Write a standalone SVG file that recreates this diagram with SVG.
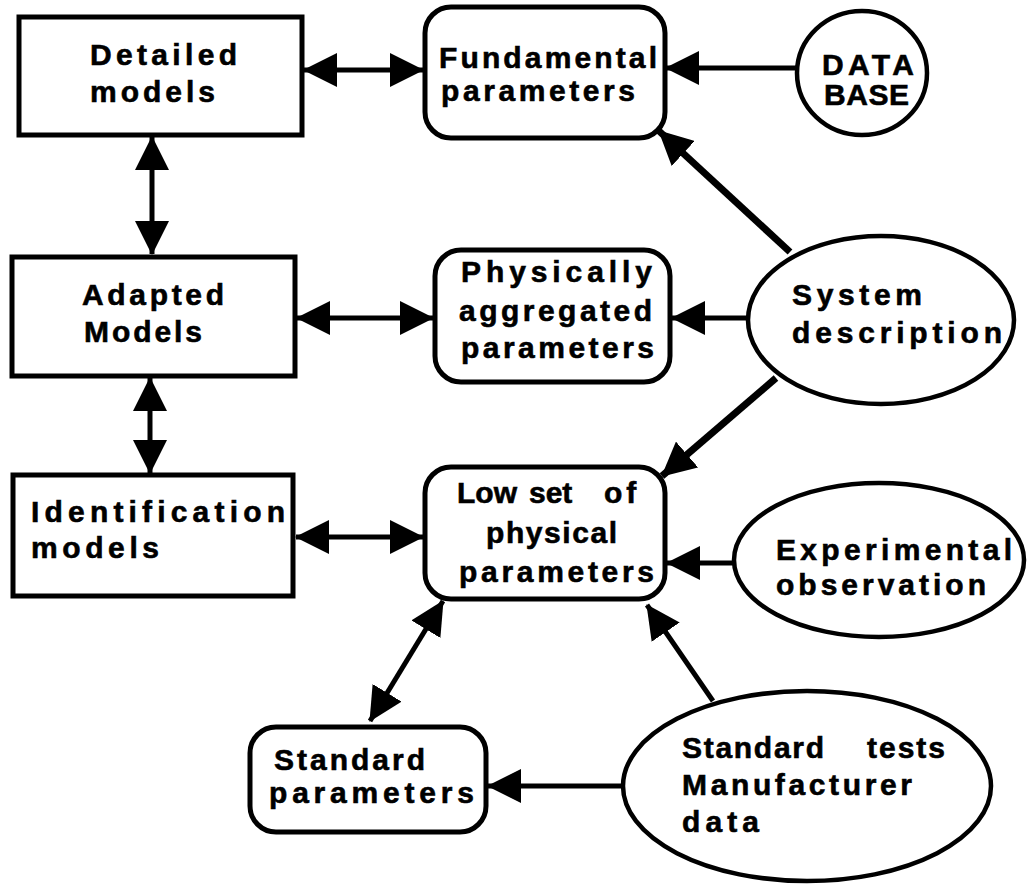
<svg xmlns="http://www.w3.org/2000/svg" width="1032" height="884" viewBox="0 0 1032 884">
<style>
.box{fill:#fff;stroke:#000;stroke-width:5}
.oval{fill:#fff;stroke:#000;stroke-width:4.5}
text{font-family:"Liberation Sans",Arial,Helvetica,sans-serif;font-weight:bold;font-size:30px;fill:#000;stroke:#000;stroke-width:0.6}
.w{letter-spacing:4px}
.c{fill:none;stroke:#000;stroke-width:5}
.t{stroke-width:7}
.d{marker-start:url(#ah);marker-end:url(#ah)}
.s{marker-end:url(#ah)}
</style>
<defs>
<marker id="ah" viewBox="0 0 34 34" refX="33" refY="17" markerWidth="34" markerHeight="34" markerUnits="userSpaceOnUse" orient="auto-start-reverse">
<path d="M0,0 L34,17 L0,34 Z" fill="#000"/>
</marker>
</defs>
<rect width="1032" height="884" fill="#fff"/>
<g id="connectors">
<line class="c d" x1="304" y1="70" x2="423" y2="70"/>
<line class="c s" x1="797" y1="68" x2="666" y2="68"/>
<line class="c t s" x1="790" y1="252" x2="659" y2="131"/>
<line class="c d" x1="152" y1="137" x2="152" y2="254"/>
<line class="c d" x1="297" y1="318" x2="433" y2="318"/>
<line class="c s" x1="747" y1="318" x2="672" y2="318"/>
<line class="c d" x1="150" y1="378" x2="150" y2="473"/>
<line class="c d" x1="296" y1="537" x2="423" y2="537"/>
<line class="c t s" x1="776" y1="378" x2="662" y2="476"/>
<line class="c s" x1="733" y1="563" x2="667" y2="563"/>
<line class="c d" x1="443" y1="601" x2="370" y2="721"/>
<line class="c s" x1="713" y1="701" x2="647" y2="605"/>
<line class="c s" x1="622" y1="786" x2="488" y2="786"/>
</g>
<g id="detailed">
<rect class="box" x="19" y="17" width="283" height="118"/>
<text x="90" y="65" textLength="147" lengthAdjust="spacing">Detailed</text>
<text x="90" y="102" textLength="125" lengthAdjust="spacing">models</text>
</g>
<g id="fundamental">
<rect class="box" x="425" y="7" width="240" height="131" rx="26"/>
<text x="439" y="68" textLength="218" lengthAdjust="spacing">Fundamental</text>
<text x="441" y="101" textLength="194" lengthAdjust="spacing">parameters</text>
</g>
<g id="database">
<ellipse class="oval" cx="862" cy="73" rx="65" ry="62"/>
<text x="822" y="75" textLength="92" lengthAdjust="spacing">DATA</text>
<text x="824" y="105" textLength="85" lengthAdjust="spacing">BASE</text>
</g>
<g id="adapted">
<rect class="box" x="12" y="257" width="283" height="119"/>
<text x="82" y="305" textLength="142" lengthAdjust="spacing">Adapted</text>
<text x="84" y="342" textLength="118" lengthAdjust="spacing">Models</text>
</g>
<g id="physically">
<rect class="box" x="435" y="250" width="235" height="132" rx="26"/>
<text x="461" y="282" textLength="191" lengthAdjust="spacing">Physically</text>
<text x="459" y="321" textLength="193" lengthAdjust="spacing">aggregated</text>
<text x="461" y="358" textLength="193" lengthAdjust="spacing">parameters</text>
</g>
<g id="system">
<ellipse class="oval" cx="881" cy="320" rx="133" ry="84"/>
<text x="792" y="305" textLength="130" lengthAdjust="spacing">System</text>
<text x="792" y="343" textLength="210" lengthAdjust="spacing">description</text>
</g>
<g id="identification">
<rect class="box" x="13" y="475" width="280" height="121"/>
<text x="31" y="522" textLength="254" lengthAdjust="spacing">Identification</text>
<text x="31" y="558" textLength="128" lengthAdjust="spacing">models</text>
</g>
<g id="lowset">
<rect class="box" x="425" y="467" width="240" height="132" rx="26"/>
<text x="457" y="503">Low <tspan x="529">set</tspan> <tspan x="604" class="w">of</tspan></text>
<text x="486" y="543" textLength="131" lengthAdjust="spacing">physical</text>
<text x="459" y="582" textLength="195" lengthAdjust="spacing">parameters</text>
</g>
<g id="experimental">
<ellipse class="oval" cx="879" cy="560" rx="145" ry="77"/>
<text x="776" y="560" textLength="236" lengthAdjust="spacing">Experimental</text>
<text x="776" y="595" textLength="210" lengthAdjust="spacing">observation</text>
</g>
<g id="standardparams">
<rect class="box" x="250" y="727" width="236" height="105" rx="26"/>
<text x="274" y="770" textLength="151" lengthAdjust="spacing">Standard</text>
<text x="269" y="803" textLength="205" lengthAdjust="spacing">parameters</text>
</g>
<g id="standardtests">
<ellipse class="oval" cx="807" cy="786" rx="184" ry="95"/>
<text x="682" y="758" textLength="142" lengthAdjust="spacing">Standard</text>
<text x="867" y="758" textLength="78" lengthAdjust="spacing">tests</text>
<text x="682" y="795" textLength="230" lengthAdjust="spacing">Manufacturer</text>
<text x="682" y="832" textLength="77" lengthAdjust="spacing">data</text>
</g>
</svg>
